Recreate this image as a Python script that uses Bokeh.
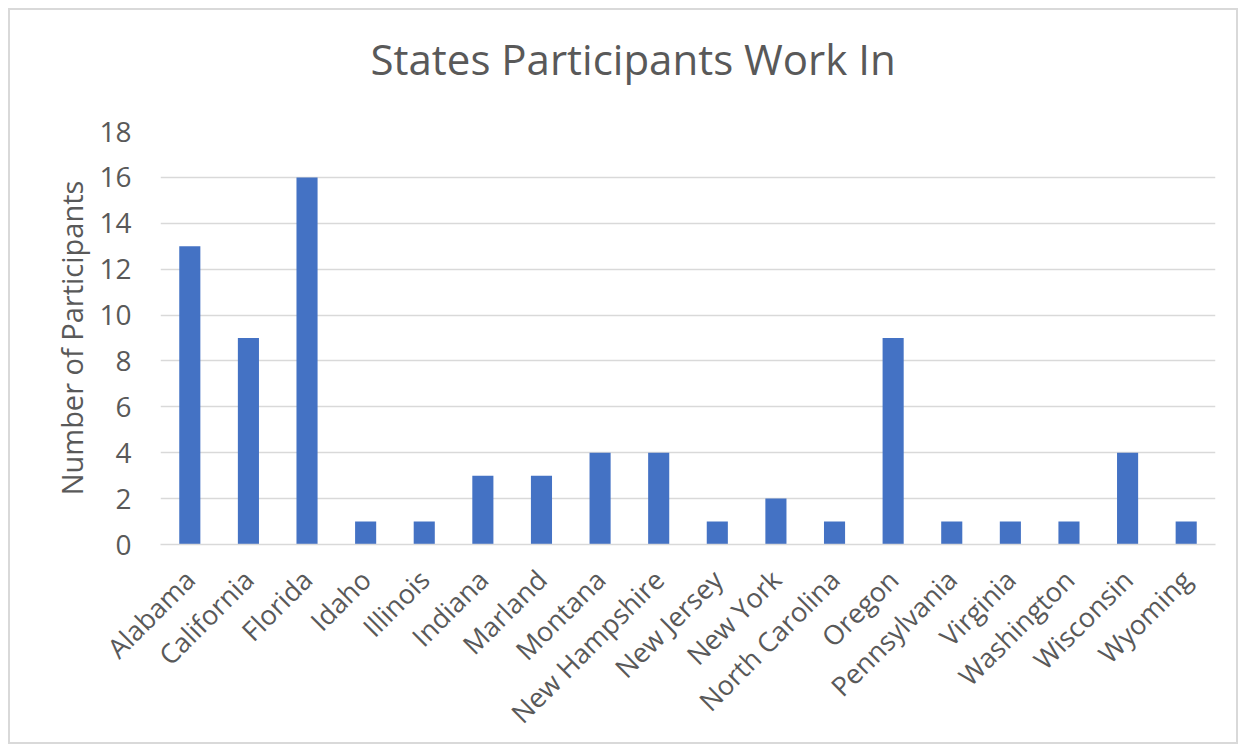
import math
from bokeh.plotting import figure
from bokeh.models import ColumnDataSource, FactorRange, Range1d, SingleIntervalTicker, Title
from bokeh.embed import file_html
from bokeh.resources import INLINE

states = ["Alabama", "California", "Florida", "Idaho", "Illinois", "Indiana", "Marland",
          "Montana", "New Hampshire", "New Jersey", "New York", "North Carolina", "Oregon",
          "Pennsylvania", "Virginia", "Washington", "Wisconsin", "Wyoming"]
participants = [13, 9, 16, 1, 1, 3, 3, 4, 4, 1, 2, 1, 9, 1, 1, 1, 4, 1]
title_text = "States Participants Work In"

TEXT = "#595959"
GRID = "#d9d9d9"
FONT = "Open Sans"

source = ColumnDataSource(data=dict(state=states, count=participants))

p = figure(width=1230, height=736, x_range=FactorRange(*states), y_range=Range1d(0, 18),
           output_backend="svg", toolbar_location=None,
           min_border_left=150, min_border_right=25, min_border_top=121, min_border_bottom=200)
p.styles = {"border": "2px solid #d9d9d9", "margin-left": "8px", "margin-top": "8px"}

p.vbar(x="state", top="count", width=0.36, source=source, color="#4472C4", line_color=None)

# spacer between title and plot area
p.add_layout(Title(text=" ", text_font_size="1px", standoff=42), "above")

p.title = Title(text=title_text, text_font=FONT, text_font_size="42px",
                text_font_style="normal", text_color=TEXT, align="left", offset=210,
                vertical_align="bottom", standoff=0)

p.outline_line_color = None
p.background_fill_color = "white"
p.border_fill_color = "white"

p.xgrid.grid_line_color = None
p.ygrid.grid_line_color = GRID
p.ygrid.grid_line_width = 1.5
p.yaxis.ticker = SingleIntervalTicker(interval=2)

p.yaxis.axis_line_color = None
p.yaxis.major_tick_line_color = None
p.yaxis.minor_tick_line_color = None
p.yaxis.major_label_text_font = FONT
p.yaxis.major_label_text_font_size = "28px"
p.yaxis.major_label_text_color = TEXT
p.yaxis.major_label_standoff = 23
p.yaxis.axis_label = "Number of Participants"
p.yaxis.axis_label_text_font = FONT
p.yaxis.axis_label_text_font_size = "29px"
p.yaxis.axis_label_text_font_style = "normal"
p.yaxis.axis_label_text_color = TEXT
p.yaxis.axis_label_standoff = 5

p.xaxis.axis_line_color = GRID
p.xaxis.axis_line_width = 1.5
p.xaxis.major_tick_line_color = None
p.xaxis.minor_tick_line_color = None
p.xaxis.major_label_orientation = math.pi / 4
p.xaxis.major_label_text_font = FONT
p.xaxis.major_label_text_font_size = "27px"
p.xaxis.major_label_text_color = TEXT
p.xaxis.major_label_standoff = 24

open("out.html", "w").write(file_html(p, INLINE))
